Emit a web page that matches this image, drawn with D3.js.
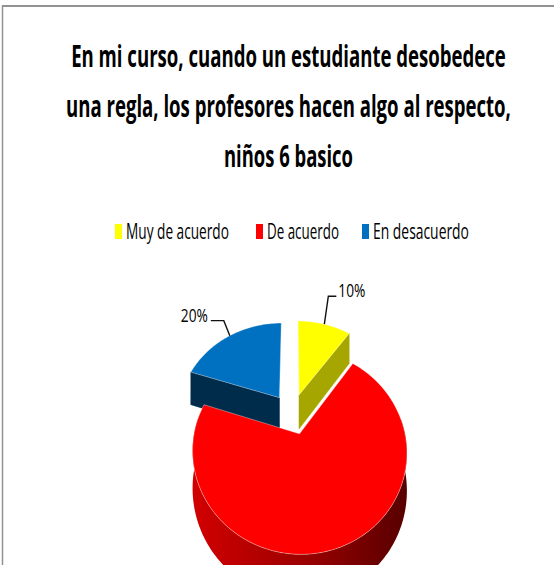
<!DOCTYPE html>
<html>
<head>
<meta charset="utf-8">
<script src="https://cdnjs.cloudflare.com/ajax/libs/d3/7.8.5/d3.min.js"></script>
<style>
  html, body { margin: 0; padding: 0; background: #fff; }
  svg { display: block; }
</style>
</head>
<body>
<div id="chart"></div>
<script>
var width = 554;
var height = 565;

// data
var categories = ["Muy de acuerdo", "De acuerdo", "En desacuerdo"];
var values = [10, 70, 20];
var labelled = ["Muy de acuerdo", "En desacuerdo"];
var titleLines = [
  "En mi curso, cuando un estudiante desobedece",
  "una regla, los profesores hacen algo al respecto,",
  "niños 6 basico"
];

// styles
var topColors = ["#ffff00", "#ff0000", "#0070c0"];
var sideColors = ["#a6a600", "#a00000", "#002c4c"];

var svg = d3.select("#chart")
  .append("svg")
  .attr("width", width)
  .attr("height", height);

// squeeze a text horizontally to a given width (condensed look of the original)
function fit(text, x, y, w) {
  var n = text.node().getComputedTextLength();
  var s = n > 0 ? w / n : 1;
  text.attr("x", 0).attr("y", 0)
    .attr("transform", "translate(" + x + "," + y + ") scale(" + s + ",1)");
}

// frame
svg.append("line")
  .attr("x1", 2).attr("x2", width).attr("y1", 6).attr("y2", 6)
  .attr("stroke", "#929292").attr("stroke-width", 2);
svg.append("line")
  .attr("x1", 2.5).attr("x2", 2.5).attr("y1", 5).attr("y2", height)
  .attr("stroke", "#929292").attr("stroke-width", 1.5);

// title
var titleW = [435, 445, 129];
svg.append("g")
  .selectAll("text")
  .data(titleLines)
  .enter()
  .append("text")
  .attr("text-anchor", "middle")
  .style("font-family", "'Open Sans', sans-serif")
  .style("font-weight", "bold")
  .style("font-size", "31px")
  .style("fill", "#000")
  .text(function(d) { return d; })
  .each(function(d, i) {
    fit(d3.select(this), 288.5, 67 + i * 50, titleW[i]);
  });

// legend
var legendX = [115, 256, 362];
var legendW = [103, 72, 96];
var legend = svg.append("g")
  .selectAll("g")
  .data(categories)
  .enter()
  .append("g")
  .attr("transform", function(d, i) { return "translate(" + legendX[i] + ",0)"; });
legend.append("rect")
  .attr("x", 0).attr("y", 224)
  .attr("width", 7).attr("height", 15)
  .attr("fill", function(d, i) { return topColors[i]; });
legend.append("text")
  .style("font-family", "'Open Sans', sans-serif")
  .style("font-size", "21px")
  .style("fill", "#000")
  .text(function(d) { return d; })
  .each(function(d, i) {
    fit(d3.select(this), 11, 239, legendW[i]);
  });

// 3d pie: perspective top face, vertical extrusion
var CX = 292.3, CY = 413.7;
var KX = 101.7, KY = 92.3, G = 0.17;
var DEPTH = 35.2;
var EXPLODE = 0.221;

function proj(X, Z, drop) {
  var d = 1 + G * Z;
  return [CX + KX * X / d, CY - KY * Z / d + (drop ? DEPTH / d : 0)];
}

var pie = d3.pie().sort(null).value(function(d) { return d; });
var arcs = pie(values).map(function(a, i) {
  var mid = (a.startAngle + a.endAngle) / 2;
  a.i = i;
  a.ox = EXPLODE * Math.sin(mid);
  a.oz = EXPLODE * Math.cos(mid);
  return a;
});

function pt(a, ang, drop) {
  return proj(a.ox + Math.sin(ang), a.oz + Math.cos(ang), drop);
}
function center(a, drop) {
  return proj(a.ox, a.oz, drop);
}
function arcPoints(a, a0, a1, drop) {
  var n = Math.max(2, Math.ceil(Math.abs(a1 - a0) / 0.02));
  return d3.range(n + 1).map(function(k) {
    return pt(a, a0 + (a1 - a0) * k / n, drop);
  });
}

var line = d3.line();

// side gradients
var defs = svg.append("defs");
arcs.forEach(function(a) {
  var xs = arcPoints(a, a.startAngle, a.endAngle, false).map(function(p) { return p[0]; });
  var c = d3.color(topColors[a.i]);
  var g = defs.append("linearGradient")
    .attr("id", "side" + a.i)
    .attr("gradientUnits", "userSpaceOnUse")
    .attr("x1", d3.min(xs)).attr("x2", d3.max(xs))
    .attr("y1", 0).attr("y2", 0);
  g.append("stop").attr("offset", 0).attr("stop-color", c.darker(0.55));
  g.append("stop").attr("offset", 0.5).attr("stop-color", c.darker(1.35));
  g.append("stop").attr("offset", 1).attr("stop-color", c.darker(3));
});

var pieG = svg.append("g");

// back to front
arcs.slice().sort(function(a, b) { return b.oz - a.oz; }).forEach(function(a) {
  var g = pieG.append("g");

  // radial faces facing the viewer
  [[a.startAngle, a.startAngle - Math.PI / 2], [a.endAngle, a.endAngle + Math.PI / 2]]
    .forEach(function(e) {
      if (Math.cos(e[1]) < -0.05) {
        var poly = [center(a, false), pt(a, e[0], false), pt(a, e[0], true), center(a, true)];
        g.append("path")
          .attr("d", line(poly) + "Z")
          .attr("fill", sideColors[a.i])
          .attr("stroke", sideColors[a.i])
          .attr("stroke-width", 0.5);
      }
    });

  // outer curved side (front half)
  var lo = Math.max(a.startAngle, Math.PI * 0.45);
  var hi = Math.min(a.endAngle, Math.PI * 1.55);
  if (hi > lo) {
    var top = arcPoints(a, lo, hi, false);
    var bottom = arcPoints(a, lo, hi, true).reverse();
    g.append("path")
      .attr("d", line(top.concat(bottom)) + "Z")
      .attr("fill", "url(#side" + a.i + ")");
  }

  // top face
  var face = [center(a, false)].concat(arcPoints(a, a.startAngle, a.endAngle, false));
  g.append("path")
    .attr("d", line(face) + "Z")
    .attr("fill", topColors[a.i])
    .attr("stroke", "#fff")
    .attr("stroke-opacity", 0.6)
    .attr("stroke-width", 0.6);
});

// data labels with leader lines
var total = d3.sum(values);
var fmt = d3.format(".0%");
var leader = {
  "Muy de acuerdo": { dx: 4, dy: -28, len: 8 },
  "En desacuerdo": { dx: -6, dy: -15, len: -13 }
};
arcs.forEach(function(a) {
  var name = categories[a.i];
  if (labelled.indexOf(name) < 0) return;
  var mid = (a.startAngle + a.endAngle) / 2;
  var p0 = pt(a, mid, false);
  var L = leader[name];
  var p1 = [p0[0] + L.dx, p0[1] + L.dy];
  var p2 = [p1[0] + L.len, p1[1]];
  svg.append("path")
    .attr("d", line([p0, p1, p2]))
    .attr("fill", "none")
    .attr("stroke", "#111")
    .attr("stroke-width", 1.4);
  var t = svg.append("text")
    .attr("text-anchor", L.len > 0 ? "start" : "end")
    .style("font-family", "'Open Sans', sans-serif")
    .style("font-size", "19px")
    .style("fill", "#000")
    .text(fmt(a.data / total));
  fit(t, p2[0] + (L.len > 0 ? 2 : -3), p2[1] + 1, 27);
});
</script>
</body>
</html>
